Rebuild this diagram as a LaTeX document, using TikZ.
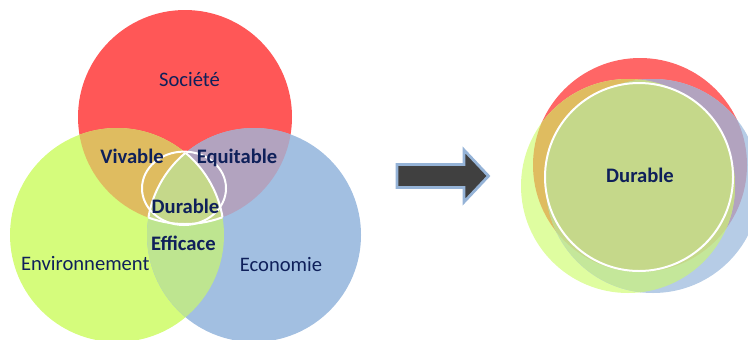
\documentclass[tikz,border=0pt]{standalone}
\usepackage{fontspec}
\setmainfont{Carlito}
\usetikzlibrary{positioning}
\definecolor{txtblue}{RGB}{15,32,90}
\definecolor{socred}{RGB}{255,87,87}
\definecolor{envlime}{RGB}{213,252,124}
\definecolor{ecoblue}{RGB}{162,191,225}
\definecolor{vivorange}{RGB}{223,188,96}
\definecolor{equimauve}{RGB}{178,163,191}
\definecolor{effgreen}{RGB}{190,229,144}
\definecolor{durolive}{RGB}{197,216,138}
\definecolor{socredlt}{RGB}{255,102,102}
\definecolor{envlimelt}{RGB}{223,253,160}
\definecolor{ecobluelt}{RGB}{182,204,230}
\definecolor{effgreenlt}{RGB}{196,231,154}
\definecolor{arrowgray}{RGB}{64,64,64}
\definecolor{arrowblue}{RGB}{149,179,215}
\tikzset{
  lab/.style  = {font=\fontsize{10.3}{12}\selectfont, text=txtblue,
                 anchor=base, inner sep=0pt},
  blab/.style = {lab, font=\fontsize{10.3}{12}\selectfont\bfseries},
  ring/.style = {draw=white, line width=1pt},
  arrowbox/.style = {fill=arrowgray, draw=arrowblue, line width=1.4pt,
                     line join=miter}
}
% cercles de gauche
\def\socL{(185,117) circle[radius=107]}
\def\envL{(117,235) circle[radius=107]}
\def\ecoL{(254,235) circle[radius=107]}
% cercles de droite
\def\socR{(640,165) circle[radius=107]}
\def\envR{(628,186) circle[radius=107]}
\def\ecoR{(653,186) circle[radius=107]}
\begin{document}
\begin{tikzpicture}[x=0.5pt, y=-0.5pt]
\useasboundingbox (0,0) rectangle (748,339);

% --- Venn a gauche ----------------------------------------------
\fill[socred]  \socL;
\fill[envlime] \envL;
\fill[ecoblue] \ecoL;
\begin{scope} \clip \socL; \fill[vivorange] \envL; \end{scope}
\begin{scope} \clip \socL; \fill[equimauve] \ecoL; \end{scope}
\begin{scope} \clip \envL; \fill[effgreen]  \ecoL; \end{scope}
\begin{scope} \clip \socL; \clip \envL; \fill[durolive] \ecoL; \end{scope}
% contour blanc de l'intersection
\begin{scope} \clip \envL; \clip \ecoL; \draw[ring] \socL; \end{scope}
\begin{scope} \clip \socL; \clip \ecoL; \draw[ring] \envL; \end{scope}
\begin{scope} \clip \socL; \clip \envL; \draw[ring] \ecoL; \end{scope}
\draw[ring] (184,188.3) ellipse[x radius=42, y radius=36.7];

\node[lab]  (soc) at (189.5,86)  {Société};
\node[blab] (viv) at (132,163)   {Vivable};
\node[blab] (equ) at (237,163)   {Equitable};
\node[blab] (dur) at (185.5,213.3) {Durable};
\node[blab] (eff) at (183.4,250) {Efficace};
\node[lab]  (env) at (85.3,270.7) {Environnement};
\node[lab]  (eco) at (281,271)   {Economie};

% --- Fleche -----------------------------------------------------
\draw[arrowbox] (397,164.5) -- (464,164.5) -- (464,150) -- (488.5,176)
  -- (464,202) -- (464,187.5) -- (397,187.5) -- cycle;

% --- Cercles a droite -------------------------------------------
\fill[socredlt]  \socR;
\fill[envlimelt] \envR;
\fill[ecobluelt] \ecoR;
\begin{scope} \clip \socR; \fill[vivorange]  \envR; \end{scope}
\begin{scope} \clip \socR; \fill[equimauve]  \ecoR; \end{scope}
\begin{scope} \clip \envR; \fill[effgreenlt] \ecoR; \end{scope}
\begin{scope} \clip \socR; \clip \envR; \fill[durolive] \ecoR; \end{scope}
\draw[ring, fill=durolive] (639,177) circle[radius=94];
\node[blab] (durR) at (640,182.3) {Durable};
\end{tikzpicture}
\end{document}
